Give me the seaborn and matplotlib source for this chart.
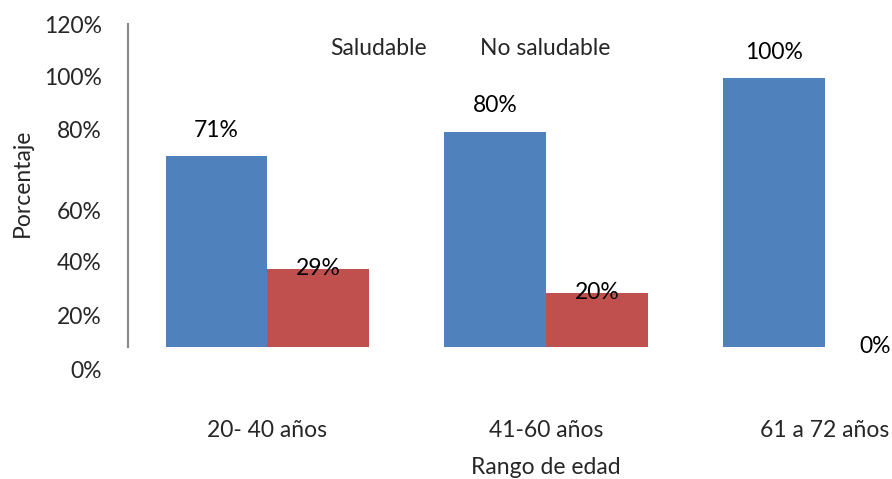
import numpy as np
import pandas as pd
import matplotlib
matplotlib.use("Agg")
import matplotlib.pyplot as plt
import seaborn as sns

# Daten
rangos = ['20- 40 años', '41-60 años', '61 a 72 años']
saludable = [71, 80, 100]
no_saludable = [29, 20, 0]
grupos = ['Saludable', 'No saludable']
ytick_labels = ['0%', '20%', '40%', '60%', '80%', '100%', '120%']

sns.set_theme(style="white")
plt.rcParams['font.family'] = ['Lato', 'DejaVu Sans']
fs = 16.5

df = pd.DataFrame({
    'Rango': rangos * 2,
    'Valor': [v / 100 for v in saludable + no_saludable],
    'Grupo': [grupos[0]] * 3 + [grupos[1]] * 3,
})

fig = plt.figure(figsize=(8.92, 4.79), dpi=100)
# Achse geht rechts über den Rand hinaus (wie im abgeschnittenen Original)
ax = fig.add_axes([128 / 892, 1 - 374 / 479, 836 / 892, 350 / 479])

sns.barplot(data=df, x='Rango', y='Valor', hue='Grupo', hue_order=grupos,
            palette=['#4F81BD', '#C0504D'], width=0.73, saturation=1,
            linewidth=0, ax=ax, errorbar=None)

ax.set_ylim(-0.1, 1.2)
ax.set_xlim(-0.5, 2.5)

# Beschriftungen der Balken
ax.bar_label(ax.containers[0], labels=[f'{v}%' for v in saludable],
             padding=11, fontsize=fs, color='black')
ax.bar_label(ax.containers[1], labels=[f'{v}%' for v in no_saludable],
             padding=-7, fontsize=fs, color='black')

# verschobene Achsenbeschriftungen wie im Original
ytick_pos = [-0.082, 0.119, 0.316, 0.509, 0.807, 1.004, 1.197]
ax.set_yticks(ytick_pos)
ax.set_yticklabels(ytick_labels)
ax.tick_params(axis='y', length=0, pad=19, labelsize=fs)
ax.tick_params(axis='x', length=0, pad=33, labelsize=fs)

for s in ['top', 'right', 'bottom']:
    ax.spines[s].set_visible(False)
ax.spines['left'].set_color('#888888')
ax.spines['left'].set_linewidth(1.5)
ax.spines['left'].set_bounds(0, 1.2)

ax.set_xlabel('Rango de edad', fontsize=fs, labelpad=12)
ax.set_ylabel('Porcentaje', fontsize=fs)
ax.yaxis.set_label_coords(-0.114, 0.546)

leg = ax.legend(loc='upper left', bbox_to_anchor=(182 / 836, 1.02), ncol=2,
                frameon=False, handlelength=0, handletextpad=0,
                columnspacing=2.3, fontsize=fs)
for h in leg.legend_handles:
    h.set_visible(False)

fig.savefig('out.png', dpi=100)
